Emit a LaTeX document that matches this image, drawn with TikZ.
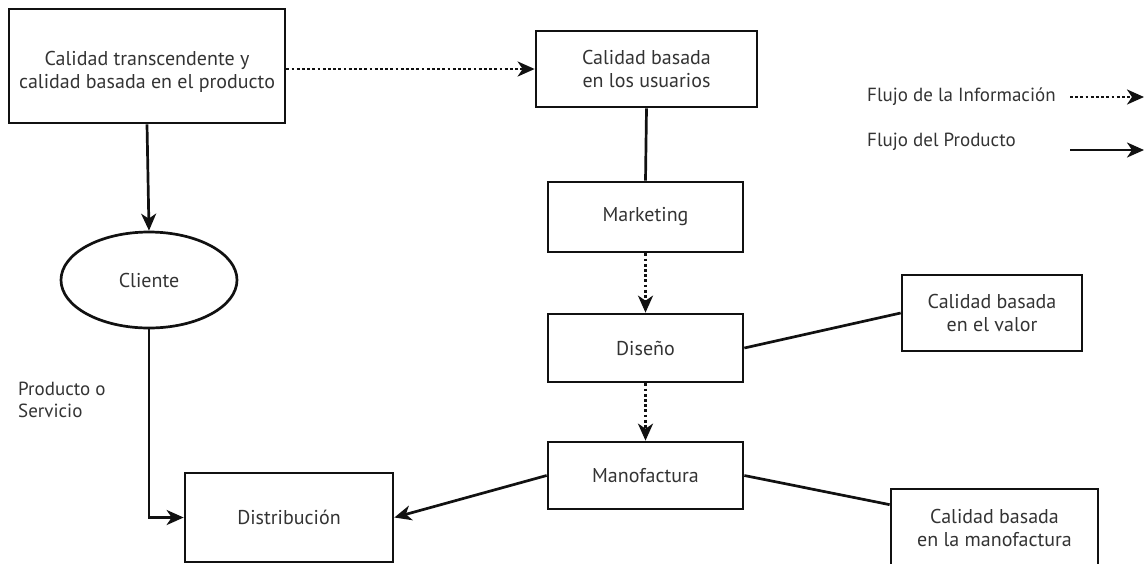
\documentclass[tikz,border=0pt]{standalone}
\usepackage{fontspec}
\setmainfont{PT Sans}
\usetikzlibrary{arrows.meta,shapes.geometric,calc}

\definecolor{inkline}{HTML}{111111}
\definecolor{inktext}{HTML}{333333}

\tikzset{
  box/.style={draw=inkline, line width=2.7pt, rectangle, inner sep=0pt,
    align=center, text=inktext, font=\fontsize{20}{23}\selectfont},
  oval/.style={draw=inkline, line width=2.7pt, ellipse, inner sep=0pt,
    text=inktext, font=\fontsize{20}{23}\selectfont},
  note/.style={inner sep=0pt, text=inktext, align=left,
    font=\fontsize{19}{22}\selectfont},
  tip/.style={-{Stealth[length=17pt,width=15pt,inset=5pt]}},
  link/.style={draw=inkline, line width=2.7pt},
  goods/.style={link, tip},
  info/.style={link, tip, dash pattern=on 2.8pt off 2.4pt},
}

\begin{document}
\begin{tikzpicture}[x=1pt,y=-1pt]
  \useasboundingbox (0,0) rectangle (1145,563);

  % left column: the first box carries its text a little below centre
  \node[box, minimum width=276pt, minimum height=114pt] (b1) at (147,66) {};
  \node[inner sep=0pt, align=center, text=inktext,
        font=\fontsize{20}{23}\selectfont] (b1text) at (147,72)
    {Calidad transcendente y\\calidad basada en el producto};
  \node[oval, minimum width=176pt, minimum height=96pt] (cli) at (149,280) {Cliente};
  \node[box, minimum width=208pt, minimum height=89pt] (dist) at (289,517.5) {Distribución};
  \node[note, anchor=north west] (serv) at (18,382) {Producto o\\Servicio};

  % central chain
  \node[box, minimum width=221pt, minimum height=76pt] (usu) at (646.5,69)
    {Calidad basada\\en los usuarios};
  \node[box, minimum width=195pt, minimum height=70pt] (mkt) at (645.5,217) {Marketing};
  \node[box, minimum width=195pt, minimum height=68pt] (dis) at (645.5,348) {Diseño};
  \node[box, minimum width=195pt, minimum height=67pt] (man) at (645.5,475.5) {Manofactura};

  % quality views on the right
  \node[box, minimum width=180pt, minimum height=76pt] (val) at (992,313)
    {Calidad basada\\en el valor};
  \node[box, minimum width=207pt, minimum height=78pt] (qm) at (994.5,528)
    {Calidad basada\\en la manofactura};

  % legend
  \node[note, anchor=west] (linfo) at (867,97) {Flujo de la Información};
  \node[note, anchor=west] (lprod) at (867,142) {Flujo del Producto};
  \coordinate (ia) at (1070,97);
  \coordinate (ib) at (1144,97);
  \coordinate (pa) at (1070,150);
  \coordinate (pb) at (1144,150);
  \draw[info] (ia) -- (ib);
  \draw[goods] (pa) -- (pb);

  % connectors
  \draw[info] (b1.east |- usu.west) -- (usu.west);
  \draw[link] (usu.south) -- (mkt.north);
  \draw[info] (mkt.south) -- (dis.north);
  \draw[info] (dis.south) -- (man.north);
  \draw[link] (dis.east) -- (val.west);
  \draw[link] (man.east) -- ([yshift=-17pt]qm.north west);
  \draw[goods] (man.west) -- (dist.east);
  \draw[goods] (b1.south) -- (cli.north);
  \draw[goods] (cli.south) |- (dist.west);
\end{tikzpicture}
\end{document}
